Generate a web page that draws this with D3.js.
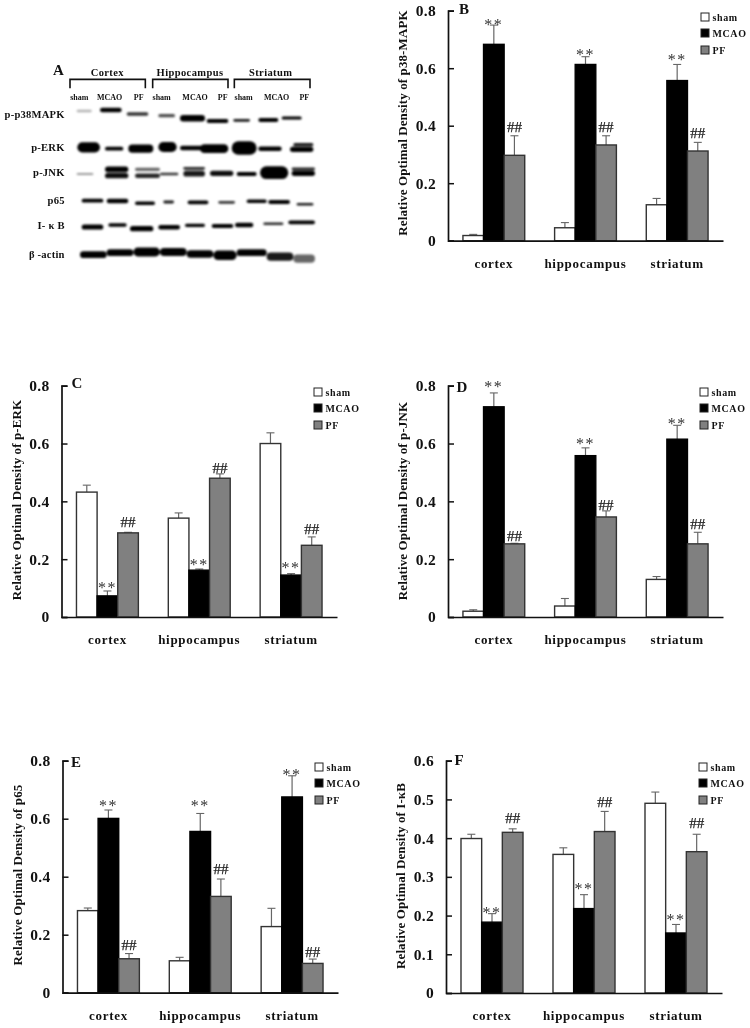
<!DOCTYPE html>
<html><head><meta charset="utf-8">
<script src="https://cdn.jsdelivr.net/npm/d3@7"></script>
<style>
html,body{margin:0;padding:0;background:#fff}
svg{display:block;filter:blur(0.35px)}
text{font-family:"Liberation Serif",serif;font-weight:700;fill:#111}
</style></head><body><div id="chart"></div>
<script>
// ---------- data ----------
const categories = ["cortex","hippocampus","striatum"];
const groups = ["sham","MCAO","PF"];
const groupFill = ["#ffffff","#000000","#808080"];

const bSham=[.018,.045,.125], bShamTop=[.022,.063,.147];
const bMcao=[.683,.613,.557], bMcaoTop=[.75,.64,.613];
const bPf=[.297,.333,.312],  bPfTop=[.365,.365,.342];
const bStars=[.758,.652,.637], bHash=[.397,.397,.376];

const cSham=[.432,.342,.6],  cShamTop=[.456,.36,.637];
const cMcao=[.073,.162,.145], cMcaoTop=[.09,.166,.15];
const cPf=[.291,.48,.248],   cPfTop=[.293,.495,.277];
const cStars=[.106,.187,.176], cHash=[.329,.517,.303];

const dSham=[.02,.038,.13],  dShamTop=[.025,.064,.14];
const dMcao=[.727,.558,.615], dMcaoTop=[.775,.585,.663];
const dPf=[.253,.346,.253],  dPfTop=[.255,.367,.293];
const dStars=[.803,.606,.676], dHash=[.279,.389,.321];

const eSham=[.283,.11,.228], eShamTop=[.292,.122,.291];
const eMcao=[.601,.556,.675], eMcaoTop=[.63,.618,.748];
const ePf=[.117,.332,.101],  ePfTop=[.135,.392,.116];
const eStars=[.649,.649,.759], eHash=[.164,.426,.141];

const fSham=[.399,.358,.49], fShamTop=[.41,.375,.519];
const fMcao=[.183,.218,.155], fMcaoTop=[.205,.254,.177];
const fPf=[.415,.417,.365],  fPfTop=[.424,.469,.41];
const fStars=[.213,.273,.193], fHash=[.451,.493,.438];

const ticks08=[0,.2,.4,.6,.8];
const ticks06=[0,.1,.2,.3,.4,.5,.6];

// Western blot: each band = gel-x start, gel-x end, gel-y, thickness, density (gel units)
const blotP38=[[23,27.5,18.3,.5,.3],[30,36.5,18,1.1,1],[38,44.5,19.2,.8,.8],[47.5,52.5,19.7,.7,.7],[54,61.5,20.5,1.7,1],[62,68.5,21.3,.9,1],[70,75,21.1,.6,.9],[77.5,83.5,21,1,1],[84.5,90.5,20.4,.7,1]];
const blotERK=[[23.2,30,29.2,2.8,1],[31.5,37,29.6,.9,1],[38.5,46,29.6,2.2,1],[47.5,53,29.1,2.8,1],[54,61,29.4,1.1,1],[60,68.5,29.6,2.4,1],[69.5,77,29.4,3.8,1],[77.5,84.5,29.6,1.1,1],[88,94,28.4,.7,.9],[87,94,29.8,1.3,1]];
const blotJNK=[[23,28,37.2,.4,.4],[31.5,38.5,35.8,1.5,1],[31.5,38.5,37.7,1.3,.95],[40.5,48,35.8,.7,.6],[40.5,48,37.7,1.1,.85],[48,53.5,37.2,.5,.8],[55,61.5,35.5,.6,.85],[55,61.5,37.1,1.5,.9],[63,70,37,1.3,.95],[71,77,37.2,.9,1],[78,86.5,36.8,3.6,1],[87.5,94.5,35.7,.6,.85],[87.5,94.5,37,1.3,1]];
const blotP65=[[24.5,31,45.2,.9,1],[32,38.5,45.3,1.1,1],[40.5,46.5,46,.8,1],[49,52.2,45.6,.6,.9],[56.3,62.5,45.7,.9,1],[65.5,70.5,45.7,.6,.8],[74,80,45.4,.8,1],[80.5,87,45.6,.9,1],[89,94,46.3,.5,.9]];
const blotIKB=[[24.5,31,53.1,1.3,1],[32.5,38,52.5,.8,1],[39,46,53.6,1.3,1],[47.5,54,53.2,1.1,1],[55.5,61.5,52.6,.7,1],[63.5,70,52.8,1,1],[70.5,76,52.5,1.1,1],[79,85,52.1,.5,.85],[86.5,94.5,51.7,.9,1]];
const blotActin=[[24,32,61.4,1.8,1],[32,40,60.8,1.8,1],[40,48,60.6,2.4,1],[48,56,60.6,2.2,1],[56,64,61.2,2,1],[64,71,61.6,2.6,1],[71,80,60.8,1.8,1],[80,88,62,2.2,.9],[88,94.5,62.6,2.2,.6]];
const blotBands=[blotP38,blotERK,blotJNK,blotP65,blotIKB,blotActin];

const tissueNames=["Cortex","Hippocampus","Striatum"];
const laneNames=["sham","MCAO","PF","sham","MCAO","PF","sham","MCAO","PF"];
const laneCentres=[23.8,32.9,41.6,48.5,58.5,66.8,73.1,83,91.3];
const tissueCentres=[32.2,57,81.2];
const bracketSpans=[[21,43.6],[45.8,68.4],[70.3,93]];
const rowNames=["p-p38MAPK","p-ERK","p-JNK","p65","I- κ B","β -actin"];
const rowCentres=[19.3,29.1,36.7,45,52.7,61.3];

// ---------- layout ----------
const panels=[
 {id:"B",title:"Relative Optimal Density of p38-MAPK",x0:448,x1:723,y0:240.7,yT:10.7,max:.8,ticks:ticks08,s:[bSham,bMcao,bPf],t:[bShamTop,bMcaoTop,bPfTop],st:bStars,ha:bHash,lx:705,ly:[17,33,50],tx:402,ty:123,px:464,py:9},
 {id:"C",title:"Relative Optimal Density of p-ERK",x0:61.5,x1:337,y0:617,yT:385.7,max:.8,ticks:ticks08,s:[cSham,cMcao,cPf],t:[cShamTop,cMcaoTop,cPfTop],st:cStars,ha:cHash,lx:318,ly:392,tx:16,ty:500,px:77,py:383},
 {id:"D",title:"Relative Optimal Density of p-JNK",x0:448,x1:723,y0:617,yT:385.7,max:.8,ticks:ticks08,s:[dSham,dMcao,dPf],t:[dShamTop,dMcaoTop,dPfTop],st:dStars,ha:dHash,lx:704,ly:392,tx:402,ty:501,px:462,py:387},
 {id:"E",title:"Relative Optimal Density of p65",x0:62.5,x1:338,y0:992.7,yT:760.7,max:.8,ticks:ticks08,s:[eSham,eMcao,ePf],t:[eShamTop,eMcaoTop,ePfTop],st:eStars,ha:eHash,lx:319,ly:767,tx:17,ty:875,px:76,py:762},
 {id:"F",title:"Relative Optimal Density of I-κB",x0:446,x1:722,y0:993,yT:760.7,max:.6,ticks:ticks06,s:[fSham,fMcao,fPf],t:[fShamTop,fMcaoTop,fPfTop],st:fStars,ha:fHash,lx:703,ly:767,tx:400,ty:876,px:459,py:760}
];

const svg=d3.select("#chart").append("svg").attr("width",750).attr("height",1028).attr("viewBox","0 0 750 1028");
const defs=svg.append("defs");
defs.append("filter").attr("id","gel").attr("x","-20%").attr("y","-100%").attr("width","140%").attr("height","300%")
  .append("feGaussianBlur").attr("stdDeviation",1.2);

// ---------- panel A ----------
const gelX=d3.scaleLinear().domain([0,99]).range([0,330]);
const gelY=d3.scaleLinear().domain([0,69]).range([50,280]);
const A=svg.append("g").attr("class","blot");
const gelG=A.append("g").attr("filter","url(#gel)");
const thick=d=>gelY(d[3]+.25)-gelY(0);
blotBands.forEach(row=>{
  gelG.append("g").selectAll("rect").data(row).join("rect")
    .attr("x",d=>gelX(d[0])).attr("width",d=>gelX(d[1])-gelX(d[0]))
    .attr("y",d=>gelY(d[2])-thick(d)/2).attr("height",thick)
    .attr("rx",d=>thick(d)/2)
    .attr("fill","#000").attr("opacity",d=>d[4]);
});
A.append("text").attr("x",gelX(17.5)).attr("y",gelY(6)+5).attr("text-anchor","middle").attr("font-size",15).text("A");
A.selectAll("text.tissue").data(tissueNames).join("text").attr("class","tissue")
  .attr("x",(d,i)=>gelX(tissueCentres[i])).attr("y",gelY(6.6)+4).attr("text-anchor","middle")
  .attr("font-size",10.5).attr("letter-spacing",.4).text(d=>d);
A.selectAll("path.br").data(bracketSpans).join("path").attr("class","br")
  .attr("d",d=>`M${gelX(d[0])},${gelY(11.5)}V${gelY(8.8)}H${gelX(d[1])}V${gelY(11.5)}`)
  .attr("fill","none").attr("stroke","#111").attr("stroke-width",1.6);
A.selectAll("text.lane").data(laneNames).join("text").attr("class","lane")
  .attr("x",(d,i)=>gelX(laneCentres[i])).attr("y",gelY(14.2)+3).attr("text-anchor","middle")
  .attr("font-size",8).text(d=>d);
A.selectAll("text.row").data(rowNames).join("text").attr("class","row")
  .attr("x",gelX(19.4)).attr("y",(d,i)=>gelY(rowCentres[i])+3.5).attr("text-anchor","end")
  .attr("font-size",10.6).attr("letter-spacing",.2).text(d=>d);

// ---------- bar panels ----------
panels.forEach(p=>{
  const g=svg.append("g").attr("class","panel-"+p.id);
  const x=d3.scaleBand().domain(categories).range([p.x0,p.x1]).paddingInner(.326).paddingOuter(.163);
  const xi=d3.scaleBand().domain(groups).range([0,x.bandwidth()]);
  const y=d3.scaleLinear().domain([0,p.max]).range([p.y0,p.yT]);

  groups.forEach((gr,k)=>{
    const rows=categories.map((c,i)=>({c,v:p.s[k][i],t:p.t[k][i]}));
    const gg=g.append("g").attr("class","series-"+gr);
    gg.selectAll("line.eb").data(rows).join("line").attr("class","eb")
      .attr("x1",d=>x(d.c)+xi(gr)+xi.bandwidth()/2).attr("x2",d=>x(d.c)+xi(gr)+xi.bandwidth()/2)
      .attr("y1",d=>y(d.v)).attr("y2",d=>y(d.t)).attr("stroke","#666").attr("stroke-width",1.2);
    gg.selectAll("line.cap").data(rows).join("line").attr("class","cap")
      .attr("x1",d=>x(d.c)+xi(gr)+xi.bandwidth()/2-4).attr("x2",d=>x(d.c)+xi(gr)+xi.bandwidth()/2+4)
      .attr("y1",d=>y(d.t)).attr("y2",d=>y(d.t)).attr("stroke","#666").attr("stroke-width",1.1);
    gg.selectAll("rect").data(rows).join("rect")
      .attr("x",d=>x(d.c)+xi(gr)).attr("width",xi.bandwidth())
      .attr("y",d=>y(d.v)).attr("height",d=>y(0)-y(d.v))
      .attr("fill",groupFill[k]).attr("stroke",k==1?"#000":"#333").attr("stroke-width",1.4);
  });

  // significance marks
  g.selectAll("text.star").data(categories).join("text").attr("class","star")
    .attr("x",c=>x(c)+xi("MCAO")+xi.bandwidth()/2).attr("y",(c,i)=>y(p.st[i])+7)
    .attr("text-anchor","middle").attr("font-size",16).attr("letter-spacing",1.5).style("font-weight",400).style("fill","#333").text("**");
  g.selectAll("text.hash").data(categories).join("text").attr("class","hash")
    .attr("x",c=>x(c)+xi("PF")+xi.bandwidth()/2).attr("y",(c,i)=>y(p.ha[i])+5)
    .attr("text-anchor","middle").attr("font-size",15).style("font-weight",400).style("fill","#222").style("stroke","#222").style("stroke-width",.25).text("##");

  // axes
  const ya=g.append("g").attr("transform",`translate(${p.x0},0)`)
    .call(d3.axisLeft(y).tickValues(p.ticks).tickSize(-6).tickPadding(12).tickFormat(d=>d===0?"0":d3.format(".1f")(d)));
  ya.select(".domain").attr("stroke","#111").attr("stroke-width",1.7);
  ya.selectAll(".tick line").attr("stroke","#111").attr("stroke-width",1.5);
  ya.selectAll("text").attr("font-size",15.5).attr("letter-spacing",.3).attr("font-family",'"Liberation Serif",serif');
  const xa=g.append("g").attr("transform",`translate(0,${p.y0})`)
    .call(d3.axisBottom(x).tickSize(0).tickPadding(18));
  xa.select(".domain").attr("stroke","#111").attr("stroke-width",1.7);
  xa.selectAll("text").attr("font-size",13).attr("letter-spacing",.7).attr("font-family",'"Liberation Serif",serif');

  // y title
  g.append("text").attr("transform",`translate(${p.tx},${p.ty}) rotate(-90)`)
    .attr("text-anchor","middle").attr("dy","0.35em").attr("font-size",13).attr("letter-spacing",.1).text(p.title);
  // panel letter
  g.append("text").attr("x",p.px).attr("y",p.py+5).attr("text-anchor","middle").attr("font-size",15).text(p.id);
  // legend
  const ly=i=>Array.isArray(p.ly)?p.ly[i]:p.ly+(i==0?0:i==1?16:33);
  const lg=g.append("g").selectAll("g").data(groups).join("g").attr("transform",(d,i)=>`translate(${p.lx},${ly(i)})`);
  lg.append("rect").attr("x",-4).attr("y",-4).attr("width",8).attr("height",8)
    .attr("fill",(d,i)=>groupFill[i]).attr("stroke","#222").attr("stroke-width",1);
  lg.append("text").attr("x",7.5).attr("y",3.5).attr("font-size",10).attr("letter-spacing",.6).text(d=>d);
});
</script></body></html>
